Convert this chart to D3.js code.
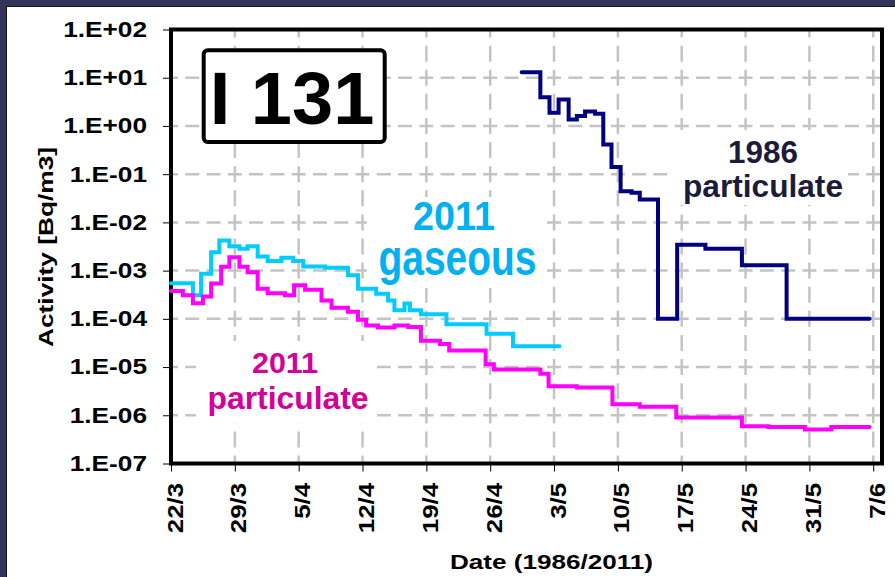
<!doctype html>
<html lang="en">
<head>
<meta charset="UTF-8" />
<title>I 131</title>
<script src="https://cdn.jsdelivr.net/npm/d3@7"></script>
<style>
  html, body { margin: 0; padding: 0; background: #34345a; }
  svg { display: block; font-family: "Liberation Sans", Arial, sans-serif; font-weight: bold; }
</style>
</head>
<body>
<div id="chart"></div>
<script>
// x values are days counted from 22/3
const tickDays = [0, 7, 14, 21, 28, 35, 42, 49, 56, 63, 70, 77];
const tickLabels = ["22/3", "29/3", "5/4", "12/4", "19/4", "26/4", "3/5", "10/5", "17/5", "24/5", "31/5", "7/6"];
const yTicks = [1e2, 1e1, 1e0, 1e-1, 1e-2, 1e-3, 1e-4, 1e-5, 1e-6, 1e-7];
const yTickLabels = ["1.E+02", "1.E+01", "1.E+00", "1.E-01", "1.E-02", "1.E-03", "1.E-04", "1.E-05", "1.E-06", "1.E-07"];

// 2011 gaseous
const gasDays = [0, 2.4, 3.3, 4.4, 5.3, 6.4, 7.5, 8.4, 9.5, 10.6, 12.1, 13.4, 14.5, 16.9, 19.4, 20.5, 22.5, 23.8, 24.5, 25.6, 26.2, 27.4, 30.2, 34.6, 37.5, 42.6];
const gasVals = [5.5e-4, 3.1e-4, 8.6e-4, 2.4e-3, 4.2e-3, 3.2e-3, 2.85e-3, 3.2e-3, 1.97e-3, 1.58e-3, 1.85e-3, 1.58e-3, 1.22e-3, 1.15e-3, 8.0e-4, 4.2e-4, 3.3e-4, 2.4e-4, 1.5e-4, 2.07e-4, 1.5e-4, 1.24e-4, 7.7e-5, 4.9e-5, 2.7e-5, 2.7e-5];

// 2011 particulate
const part11Days = [0, 1.3, 2.4, 3.5, 4.4, 5.5, 6.4, 7.5, 8.4, 9.5, 10.6, 12.5, 13.5, 14.7, 16.5, 17.6, 19.4, 20.5, 21.4, 22.7, 24.5, 26.0, 27.4, 29.5, 30.5, 34.5, 35.4, 40.5, 41.4, 44.5, 48.4, 51.4, 55.4, 62.6, 65.5, 69.5, 72.4, 76.6];
const part11Vals = [3.8e-4, 3.1e-4, 2.1e-4, 2.9e-4, 5.4e-4, 1.2e-3, 1.9e-3, 1.2e-3, 9.3e-4, 4.2e-4, 3.4e-4, 3.1e-4, 5.0e-4, 4.0e-4, 2.4e-4, 1.7e-4, 1.4e-4, 9.6e-5, 7.3e-5, 6.6e-5, 7.3e-5, 6.8e-5, 3.5e-5, 3.0e-5, 2.2e-5, 1.14e-5, 8.9e-6, 7.3e-6, 4.0e-6, 3.75e-6, 1.7e-6, 1.5e-6, 9.0e-7, 5.9e-7, 5.7e-7, 5.1e-7, 5.7e-7, 5.7e-7];

// 1986 particulate
const part86Days = [38.45, 40.5, 41.5, 42.5, 43.6, 44.5, 45.4, 46.5, 47.4, 48.3, 49.3, 50.5, 51.4, 53.4, 55.5, 58.6, 62.6, 67.5, 76.6];
const part86Vals = [13, 3.95, 1.88, 3.54, 1.36, 1.6, 2.0, 1.79, 0.41, 0.14, 0.044, 0.041, 0.030, 1.0e-4, 3.45e-3, 2.85e-3, 1.29e-3, 1.0e-4, 1.0e-4];

const width = 895, height = 577;
const plotLeft = 171, plotRight = 882, plotTop = 29.5, plotBottom = 463.5;

const x = d3.scaleLinear().domain([0, 77.96]).range([plotLeft, plotRight]);
const y = d3.scaleLog().domain([1e-7, 1e2]).range([plotBottom, plotTop]);

const svg = d3.select("#chart").append("svg")
  .attr("width", width)
  .attr("height", height);

// stretch text along its direction (the original glyphs are wider than Arial)
function stretch(sel, k) {
  sel.each(function () {
    const len = this.getComputedTextLength();
    d3.select(this).attr("textLength", len * k).attr("lengthAdjust", "spacingAndGlyphs");
  });
}

// white slide panel
svg.append("rect").attr("x", 6).attr("y", 6).attr("width", width - 6).attr("height", height - 6).attr("fill", "#101020");
svg.append("rect").attr("x", 7).attr("y", 7).attr("width", width - 7).attr("height", height - 7).attr("fill", "#fff");

// grid
const grid = svg.append("g").attr("stroke", "#c4c4c4").attr("stroke-width", 2.5).attr("fill", "none");
grid.selectAll("line.h")
  .data(yTicks.slice(1, -1))
  .enter().append("line")
  .attr("x1", plotLeft).attr("x2", plotRight)
  .attr("y1", d => y(d)).attr("y2", d => y(d))
  .attr("stroke-dasharray", "14,7.28")
  .attr("stroke-dashoffset", 7);
grid.selectAll("line.v")
  .data(tickDays.slice(1))
  .enter().append("line")
  .attr("x1", d => x(d)).attr("x2", d => x(d))
  .attr("y1", plotBottom).attr("y2", plotTop)
  .attr("stroke-dasharray", "16,8.11")
  .attr("stroke-dashoffset", 8);

// axes
const yAxis = svg.append("g")
  .attr("transform", `translate(${plotLeft},0)`)
  .call(d3.axisLeft(y).tickValues(yTicks).tickFormat((d, i) => yTickLabels[i]).tickSize(8).tickPadding(16));
yAxis.select(".domain").remove();
yAxis.selectAll("line").attr("stroke", "#000");
yAxis.selectAll("text")
  .attr("font-size", 21.5).attr("font-weight", "bold").attr("fill", "#000")
  .attr("font-family", '"Liberation Sans", Arial, sans-serif');
stretch(yAxis.selectAll("text"), 1.22);

const xAxis = svg.append("g")
  .attr("transform", `translate(0,${plotBottom})`)
  .call(d3.axisBottom(x).tickValues(tickDays).tickFormat((d, i) => tickLabels[i]).tickSize(8));
xAxis.select(".domain").remove();
xAxis.selectAll("line").attr("stroke", "#000");
xAxis.selectAll("text")
  .attr("font-size", 21.5).attr("font-weight", "bold").attr("fill", "#000")
  .attr("font-family", '"Liberation Sans", Arial, sans-serif')
  .attr("transform", "rotate(-90)")
  .attr("text-anchor", "end")
  .attr("x", -19.5).attr("y", 11).attr("dy", 0);
stretch(xAxis.selectAll("text"), 1.2);

// axis titles
svg.append("text")
  .attr("x", 551.5).attr("y", 569)
  .attr("text-anchor", "middle")
  .attr("font-size", 20.5)
  .attr("textLength", 203).attr("lengthAdjust", "spacingAndGlyphs")
  .text("Date (1986/2011)");
svg.append("text")
  .attr("transform", "translate(53,247) rotate(-90)")
  .attr("text-anchor", "middle")
  .attr("font-size", 20.5)
  .attr("textLength", 200).attr("lengthAdjust", "spacingAndGlyphs")
  .text("Activity [Bq/m3]");

// frame
svg.append("rect")
  .attr("x", plotLeft).attr("y", plotTop)
  .attr("width", plotRight - plotLeft).attr("height", plotBottom - plotTop)
  .attr("fill", "none").attr("stroke", "#000").attr("stroke-width", 4);

// annotations (white boxes hide the grid, like the original text boxes)
const notes = [
  { box: [367, 197, 179, 91], color: "#00b0f0", lines: [
    { t: "2011", x: 454, y: 230, size: 41, len: 82 },
    { t: "gaseous", x: 457.5, y: 275, size: 50, len: 158 }] },
  { box: [196, 341, 181, 82], color: "#d4009a", lines: [
    { t: "2011", x: 285, y: 373, size: 30, len: 66 },
    { t: "particulate", x: 288, y: 409, size: 31, len: 161 }] },
  { box: [673, 130, 175, 75], color: "#1b1b3b", lines: [
    { t: "1986", x: 763, y: 163, size: 31, len: 70 },
    { t: "particulate", x: 763, y: 197, size: 31, len: 160 }] }
];
notes.forEach(n => {
  svg.append("rect")
    .attr("x", n.box[0]).attr("y", n.box[1])
    .attr("width", n.box[2]).attr("height", n.box[3])
    .attr("fill", "#fff");
  n.lines.forEach(l => {
    svg.append("text")
      .attr("x", l.x).attr("y", l.y)
      .attr("text-anchor", "middle")
      .attr("font-size", l.size)
      .attr("fill", n.color)
      .attr("textLength", l.len).attr("lengthAdjust", "spacingAndGlyphs")
      .text(l.t);
  });
});

// series
const line = d3.line()
  .x(d => x(d[0]))
  .y(d => y(d[1]))
  .curve(d3.curveStepAfter);

const series = [
  { days: gasDays, vals: gasVals, color: "#00ccff" },
  { days: part11Days, vals: part11Vals, color: "#ff00ff" },
  { days: part86Days, vals: part86Vals, color: "#000080" }
];
series.forEach(s => {
  svg.append("path")
    .datum(d3.zip(s.days, s.vals))
    .attr("d", line)
    .attr("fill", "none")
    .attr("stroke", s.color)
    .attr("stroke-width", 4)
    .attr("stroke-linecap", "round")
    .attr("stroke-linejoin", "miter");
});

// title box
svg.append("rect")
  .attr("x", 203.7).attr("y", 50.3)
  .attr("width", 181).attr("height", 91.7)
  .attr("rx", 4)
  .attr("fill", "#fff").attr("stroke", "#000").attr("stroke-width", 4);
svg.append("text")
  .attr("x", 292).attr("y", 124)
  .attr("text-anchor", "middle")
  .attr("font-size", 74)
  .text("I 131");
</script>
</body>
</html>
